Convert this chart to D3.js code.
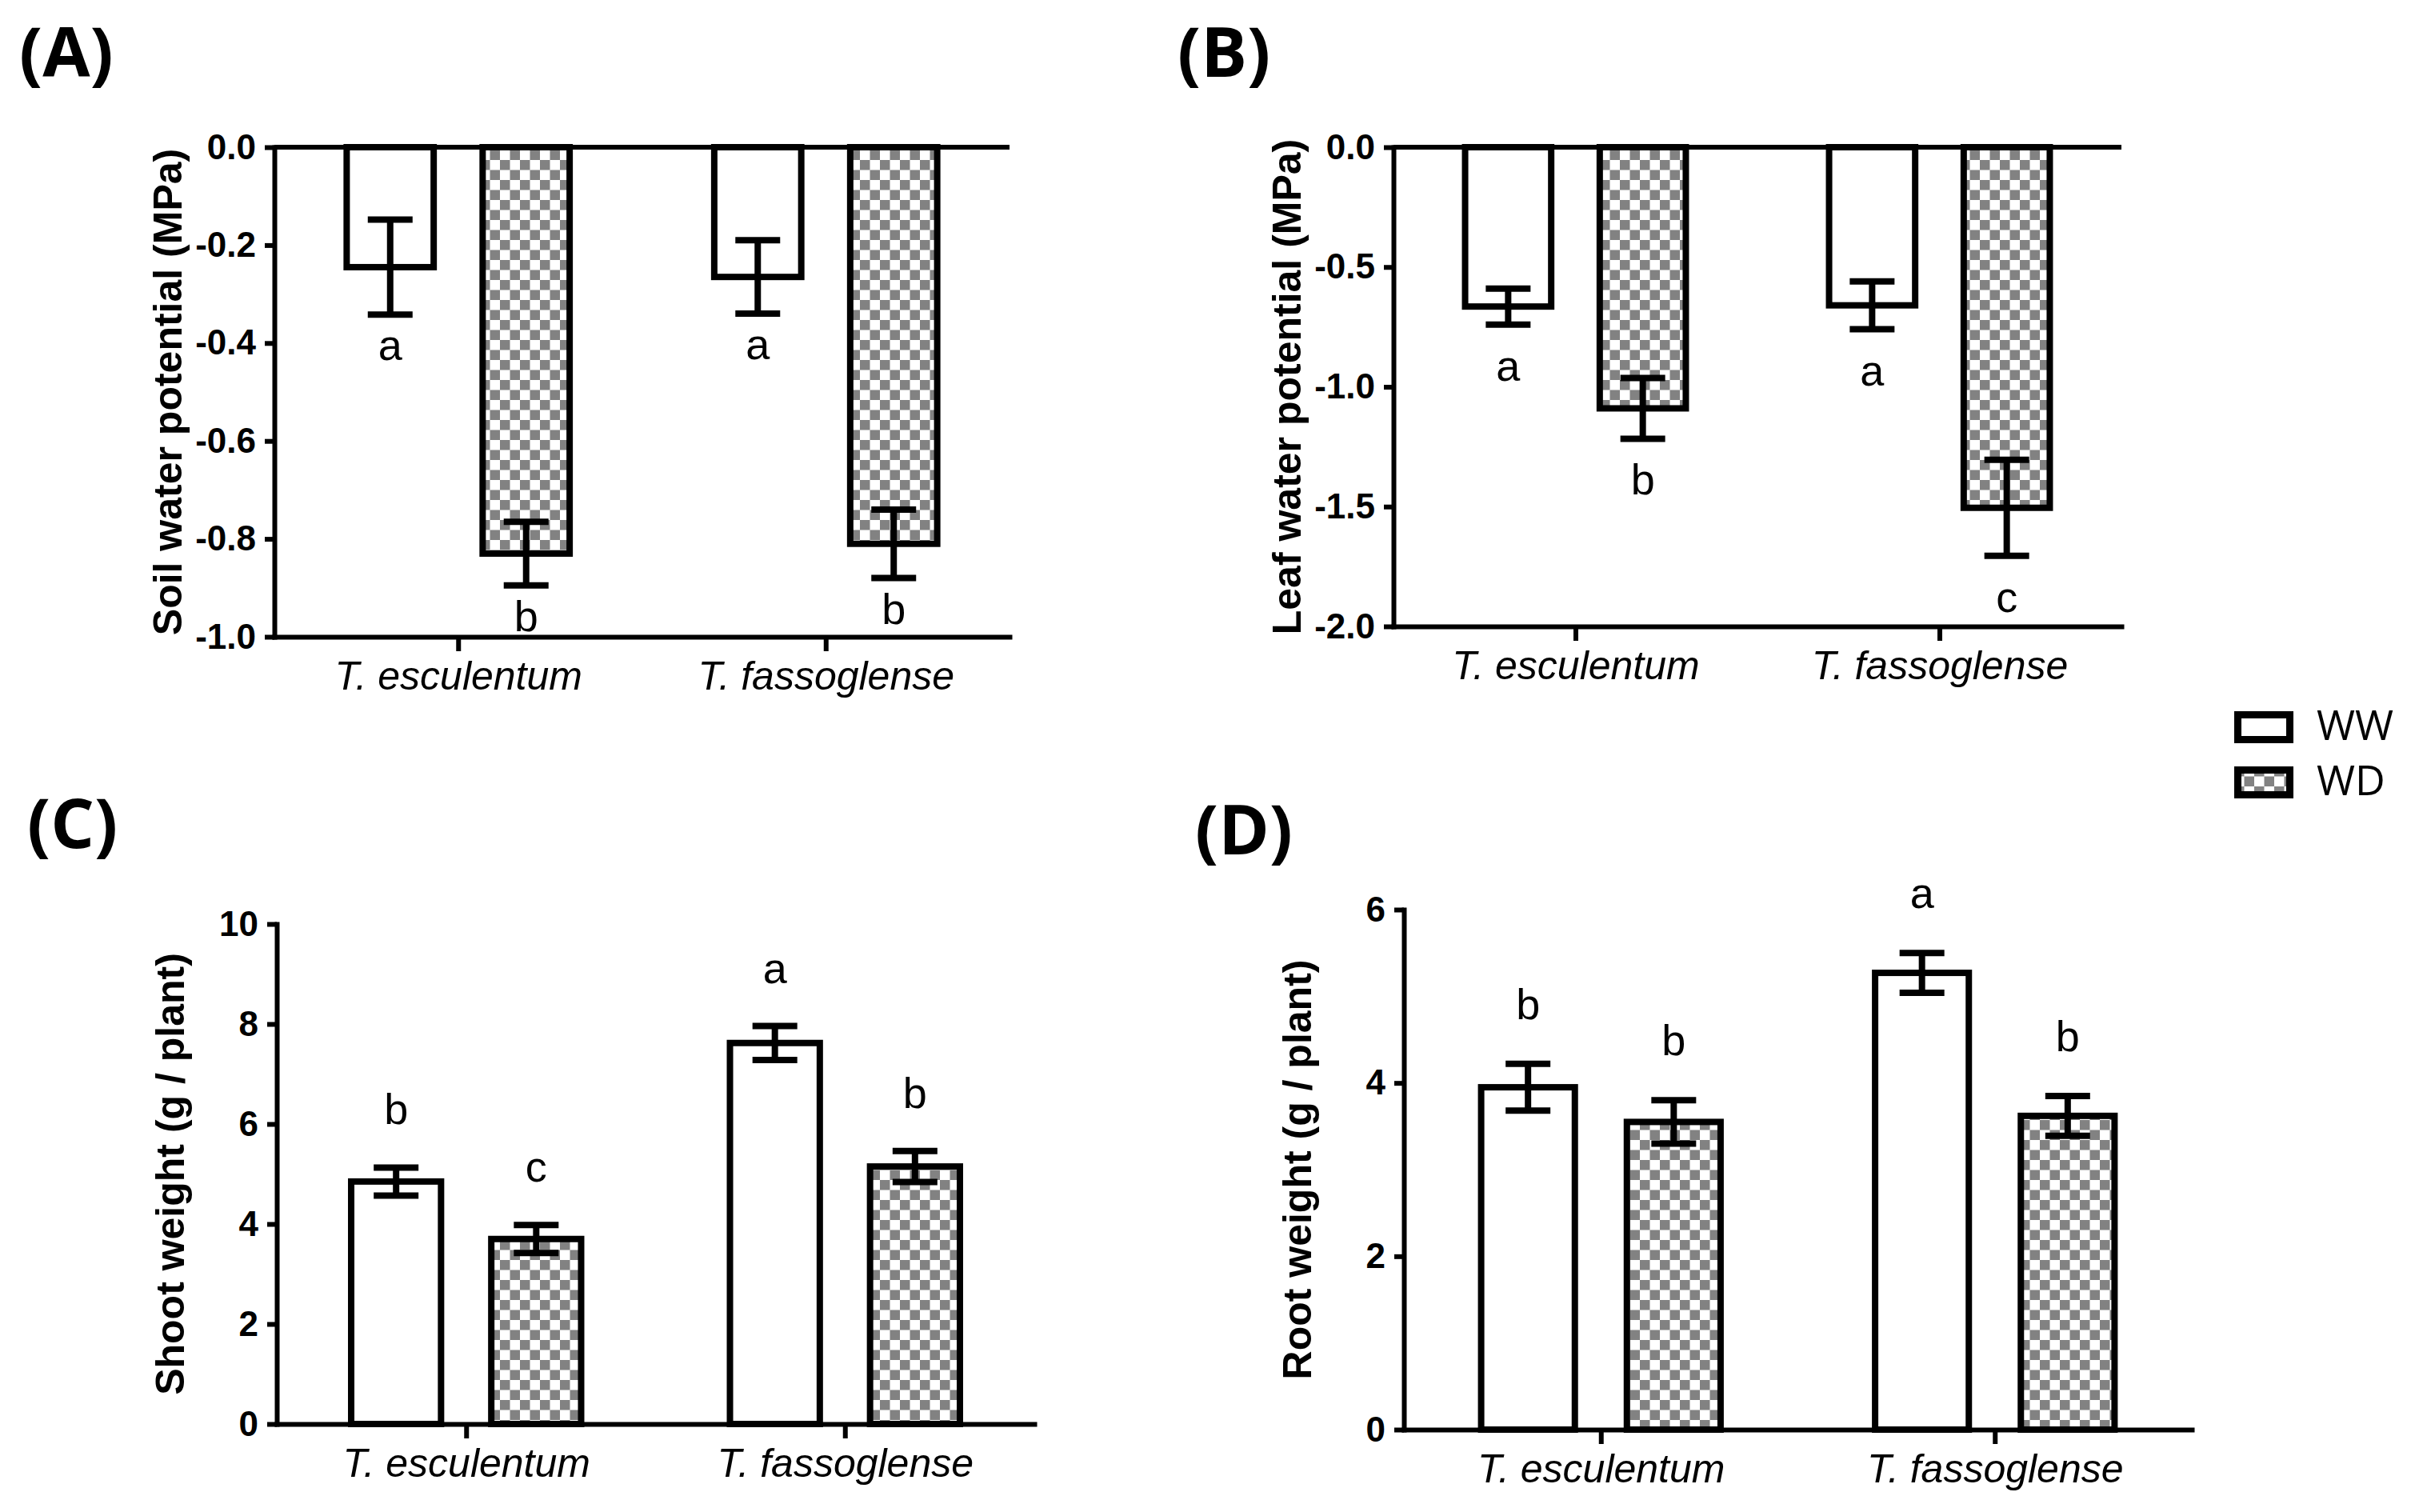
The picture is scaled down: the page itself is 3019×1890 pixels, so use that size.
<!DOCTYPE html>
<html>
<head>
<meta charset="utf-8">
<script src="https://cdn.jsdelivr.net/npm/d3@7"></script>
<style>
  body { margin: 0; background: #fff; }
  svg { display: block; }
</style>
</head>
<body>
<script>
// ---- data ----
const categories = ["T. esculentum", "T. fassoglense"];
const treatments = ["WW", "WD"];

// (A) soil water potential, MPa
const soilWW = [-0.245, -0.265], soilWWse = [0.097, 0.075];
const soilWD = [-0.83, -0.81],   soilWDse = [0.065, 0.07];
const soilLetters = { WW: ["a", "a"], WD: ["b", "b"] };
const soilTicks = [0, -0.2, -0.4, -0.6, -0.8, -1.0];

// (B) leaf water potential, MPa
const leafWW = [-0.665, -0.66], leafWWse = [0.075, 0.1];
const leafWD = [-1.09, -1.505], leafWDse = [0.127, 0.2];
const leafLetters = { WW: ["a", "a"], WD: ["b", "c"] };
const leafTicks = [0, -0.5, -1.0, -1.5, -2.0];

// (C) shoot weight, g / plant
const shootWW = [4.85, 7.62], shootWWse = [0.28, 0.34];
const shootWD = [3.7, 5.15],  shootWDse = [0.28, 0.31];
const shootLetters = { WW: ["b", "a"], WD: ["c", "b"] };
const shootTicks = [0, 2, 4, 6, 8, 10];

// (D) root weight, g / plant
const rootWW = [3.95, 5.27], rootWWse = [0.27, 0.23];
const rootWD = [3.55, 3.62], rootWDse = [0.25, 0.23];
const rootLetters = { WW: ["b", "a"], WD: ["b", "b"] };
const rootTicks = [0, 2, 4, 6];

const width = 3019, height = 1890;
const sans = "'Liberation Sans', Arial, Helvetica, sans-serif";

const svg = d3.select("body").append("svg")
  .attr("width", width)
  .attr("height", height)
  .attr("viewBox", [0, 0, width, height]);

// checkerboard fill for WD
const pat = svg.append("defs").append("pattern")
  .attr("id", "checker")
  .attr("patternUnits", "userSpaceOnUse")
  .attr("width", 25).attr("height", 25);
pat.append("rect").attr("width", 25).attr("height", 25).attr("fill", "#fff");
pat.append("rect").attr("width", 12.5).attr("height", 12.5).attr("fill", "#828282");
pat.append("rect").attr("x", 12.5).attr("y", 12.5).attr("width", 12.5).attr("height", 12.5).attr("fill", "#828282");

const fillFor = t => t === "WW" ? "#fff" : "url(#checker)";

const panels = [
  { tag: "(A)", tagX: 24, tagY: 96, x0: 343, x1: 1262, yTop: 184, yBot: 796,
    domain: [-1, 0], ticks: soilTicks, fmt: d => d.toFixed(1),
    title: "Soil water potential (MPa)", negative: true, letterGap: 57,
    ww: soilWW, wwSe: soilWWse, wd: soilWD, wdSe: soilWDse, letters: soilLetters },
  { tag: "(B)", tagX: 1472, tagY: 96, x0: 1742, x1: 2652, yTop: 184, yBot: 783,
    domain: [-2, 0], ticks: leafTicks, fmt: d => d.toFixed(1),
    title: "Leaf water potential (MPa)", negative: true, letterGap: 70,
    ww: leafWW, wwSe: leafWWse, wd: leafWD, wdSe: leafWDse, letters: leafLetters },
  { tag: "(C)", tagX: 34, tagY: 1060, x0: 346, x1: 1293, yTop: 1155, yBot: 1780,
    domain: [0, 10], ticks: shootTicks, fmt: d => d,
    title: "Shoot weight (g / plant)", negative: false, letterGap: 54,
    ww: shootWW, wwSe: shootWWse, wd: shootWD, wdSe: shootWDse, letters: shootLetters },
  { tag: "(D)", tagX: 1494, tagY: 1068, x0: 1755, x1: 2740, yTop: 1137, yBot: 1787,
    domain: [0, 6], ticks: rootTicks, fmt: d => d,
    title: "Root weight (g / plant)", negative: false, letterGap: 56,
    ww: rootWW, wwSe: rootWWse, wd: rootWD, wdSe: rootWDse, letters: rootLetters }
];

panels.forEach(p => {
  const g = svg.append("g");
  const W = p.x1 - p.x0;

  const x0 = d3.scalePoint().domain(categories).range([p.x0, p.x1]).padding(0.5);
  const R = 0.312 * W;
  const x1 = d3.scaleBand().domain(treatments).range([-R / 2, R / 2]).paddingInner(0.313);
  const y = d3.scaleLinear().domain(p.domain).range([p.yBot, p.yTop]);

  const rows = [];
  categories.forEach((c, i) => {
    rows.push({ cat: c, t: "WW", v: p.ww[i], se: p.wwSe[i], letter: p.letters.WW[i] });
    rows.push({ cat: c, t: "WD", v: p.wd[i], se: p.wdSe[i], letter: p.letters.WD[i] });
  });

  const cx = d => x0(d.cat) + x1(d.t) + x1.bandwidth() / 2;
  const sw = 8;

  // bars
  g.append("g")
    .selectAll("rect")
    .data(rows)
    .join("rect")
    .attr("x", d => x0(d.cat) + x1(d.t) + sw / 2)
    .attr("width", x1.bandwidth() - sw)
    .attr("y", d => Math.min(y(0), y(d.v)))
    .attr("height", d => Math.abs(y(0) - y(d.v)))
    .attr("fill", d => fillFor(d.t))
    .attr("stroke", "#000")
    .attr("stroke-width", sw);

  // error bars
  const eb = g.append("g").attr("stroke", "#000").attr("stroke-width", 8);
  const cap = 28;
  eb.selectAll("line.v").data(rows).join("line").attr("class", "v")
    .attr("x1", cx).attr("x2", cx)
    .attr("y1", d => y(d.v - d.se)).attr("y2", d => y(d.v + d.se));
  eb.selectAll("line.lo").data(rows).join("line").attr("class", "lo")
    .attr("x1", d => cx(d) - cap).attr("x2", d => cx(d) + cap)
    .attr("y1", d => y(d.v - d.se)).attr("y2", d => y(d.v - d.se));
  eb.selectAll("line.hi").data(rows).join("line").attr("class", "hi")
    .attr("x1", d => cx(d) - cap).attr("x2", d => cx(d) + cap)
    .attr("y1", d => y(d.v + d.se)).attr("y2", d => y(d.v + d.se));

  // significance letters
  g.append("g")
    .attr("font-family", sans)
    .attr("font-size", 54)
    .attr("text-anchor", "middle")
    .selectAll("text")
    .data(rows)
    .join("text")
    .attr("x", cx)
    .attr("y", d => p.negative ? y(d.v - d.se) + p.letterGap : y(d.v + d.se) - p.letterGap)
    .text(d => d.letter);

  // zero line for negative panels
  if (p.negative) {
    g.append("line")
      .attr("x1", p.x0).attr("x2", p.x1)
      .attr("y1", y(0)).attr("y2", y(0))
      .attr("stroke", "#000").attr("stroke-width", 6);
  }

  // y axis
  g.append("g")
    .attr("transform", `translate(${p.x0},0)`)
    .call(d3.axisLeft(y).tickValues(p.ticks).tickFormat(p.fmt).tickSize(12).tickSizeOuter(0).tickPadding(11))
    .call(a => a.select(".domain").attr("stroke-width", 6).attr("stroke-linecap", "square"))
    .call(a => a.selectAll(".tick line").attr("stroke-width", 6))
    .call(a => a.selectAll(".tick text")
      .attr("font-family", sans).attr("font-weight", "bold").attr("font-size", 44).attr("fill", "#000"));

  // x axis
  g.append("g")
    .attr("transform", `translate(0,${p.yBot})`)
    .call(d3.axisBottom(x0).tickSize(18).tickSizeOuter(0).tickPadding(12))
    .call(a => a.select(".domain").attr("stroke-width", 6).attr("stroke-linecap", "square"))
    .call(a => a.selectAll(".tick line").attr("stroke-width", 6))
    .call(a => a.selectAll(".tick text")
      .attr("font-family", sans).attr("font-style", "italic").attr("font-size", 50).attr("fill", "#000"));

  // y title
  g.append("text")
    .attr("transform", `translate(${p.x0 - 116},${(p.yTop + p.yBot) / 2}) rotate(-90)`)
    .attr("text-anchor", "middle")
    .attr("font-family", sans)
    .attr("font-weight", "bold")
    .attr("font-size", 50)
    .text(p.title);

  // panel tag
  svg.append("text")
    .attr("x", p.tagX).attr("y", p.tagY)
    .attr("font-family", "'Open Sans', sans-serif")
    .attr("font-weight", "bold")
    .attr("font-size", 86)
    .text(p.tag);
});

// legend
const legend = svg.append("g").attr("transform", "translate(2793,889)");
const li = legend.selectAll("g").data(treatments).join("g")
  .attr("transform", (d, i) => `translate(0,${i * 69})`);
li.append("rect")
  .attr("x", 4.5).attr("y", 4.5).attr("width", 65).attr("height", 31)
  .attr("fill", d => fillFor(d))
  .attr("stroke", "#000").attr("stroke-width", 9);
li.append("text")
  .attr("x", 103).attr("y", 36)
  .attr("font-family", "'Open Sans', sans-serif")
  .attr("font-size", 52)
  .text(d => d);
</script>
</body>
</html>
